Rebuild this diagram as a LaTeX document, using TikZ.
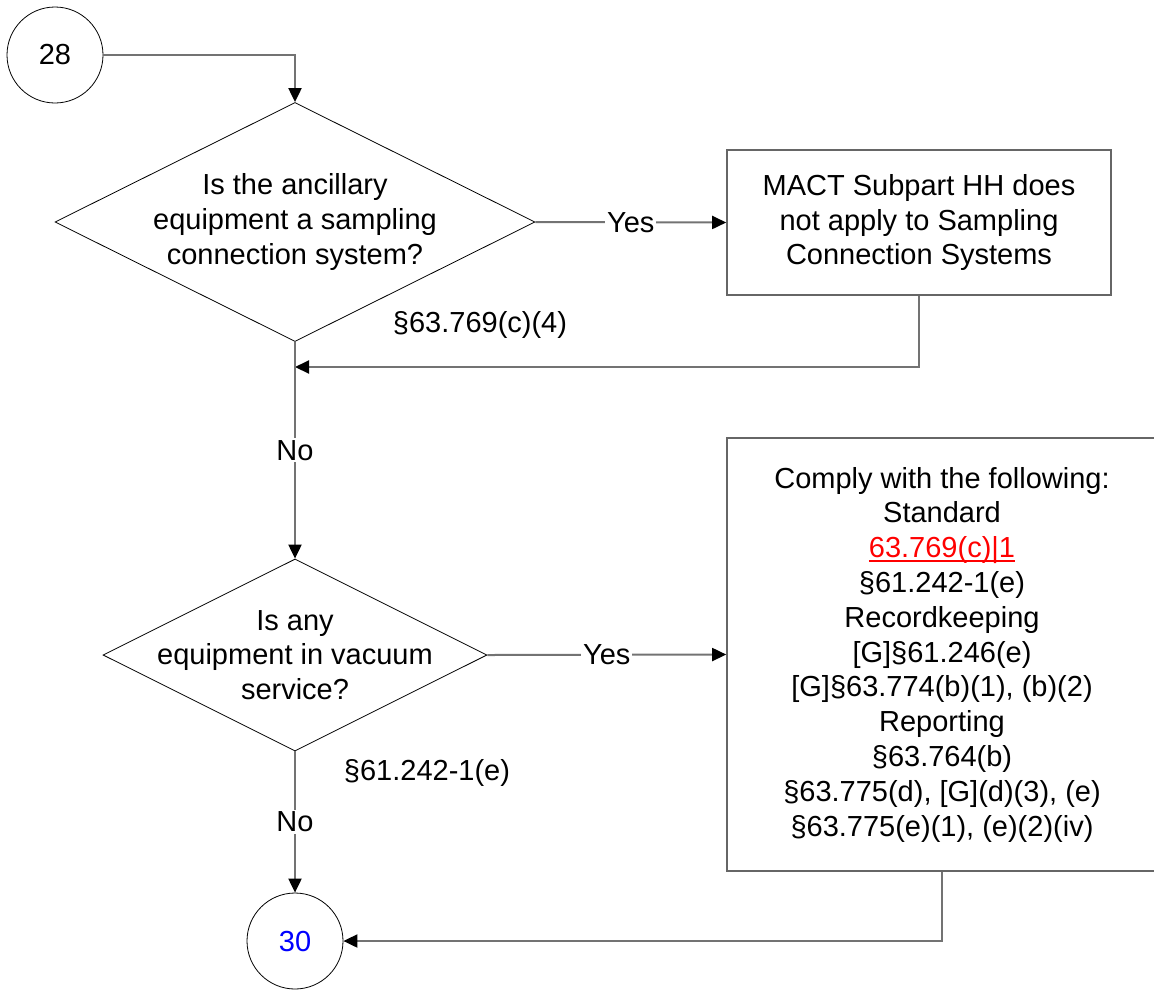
\documentclass[tikz,border=0pt]{standalone}
\usepackage{fontspec}
\setmainfont{Liberation Sans}
\usetikzlibrary{arrows.meta, shapes.geometric}
\usepackage{xcolor}
\newcommand{\redlink}[1]{\textcolor{red}{\setbox0\hbox{#1}\rlap{\rule[-2pt]{\wd0}{0.7pt}}\box0}}

\begin{document}
\begin{tikzpicture}[x=0.5pt, y=-0.5pt, font=\fontsize{14.5}{17.4}\selectfont]
    \tikzstyle{conn}=[circle, draw=black, line width=0.4pt, minimum size=48pt, inner sep=0pt]
    \tikzstyle{decision}=[diamond, draw=black, line width=0.4pt, inner sep=0pt]
    \tikzstyle{action}=[rectangle, draw=black!60, line width=0.8pt, align=center, inner sep=0pt]
    \tikzstyle{flow}=[draw=black!55, line width=1pt, -{Triangle[length=7pt, width=6.5pt, color=black]}]
    \tikzstyle{annot}=[fill=white, inner sep=1pt]

    \useasboundingbox (0,0) rectangle (1154,991);

    % off-page connectors
    \node [conn] (c28) at (55,55) {28};
    \node [conn, text=blue] (c30) at (295,941) {30};

    % decisions
    \node [decision, minimum width=240pt, minimum height=119.5pt,
           label={[align=center]center:Is the ancillary\\equipment a sampling\\connection system?}] (q1) at (295,222) {};
    \node [decision, minimum width=192pt, minimum height=96pt,
           label={[align=center]center:Is any\\equipment in vacuum\\service?}] (q2) at (295,655) {};

    % actions
    \node [action, minimum width=192pt, minimum height=72.5pt] (na1) at (919,222.5)
        {MACT Subpart HH does\\not apply to Sampling\\Connection Systems};
    \node [action, minimum width=215pt, minimum height=216.5pt] (comply) at (942,654.5)
        {Comply with the following:\\Standard\\\redlink{63.769(c)|1}\\§61.242-1(e)\\Recordkeeping\\
         {[G]}§61.246(e)\\{[G]}§63.774(b)(1), (b)(2)\\Reporting\\§63.764(b)\\§63.775(d), [G](d)(3), (e)\\§63.775(e)(1), (e)(2)(iv)};

    \node (ref1) at (480,325) {§63.769(c)(4)};
    \node (ref2) at (427,773) {§61.242-1(e)};

    \coordinate (j1) at (295,367);

    \draw [flow] (c28.east) -| (q1.north);
    \draw [flow] (q1.east) -- node[annot] {Yes} (na1.west);
    \draw [flow] (na1.south) |- (j1);
    \draw [flow] (q1.south) -- node[annot] {No} (q2.north);
    \draw [flow] (q2.east) -- node[annot] {Yes} (comply.west);
    \draw [flow] (q2.south) -- node[annot] {No} (c30.north);
    \draw [flow] (comply.south) |- (c30.east);
\end{tikzpicture}
\end{document}
